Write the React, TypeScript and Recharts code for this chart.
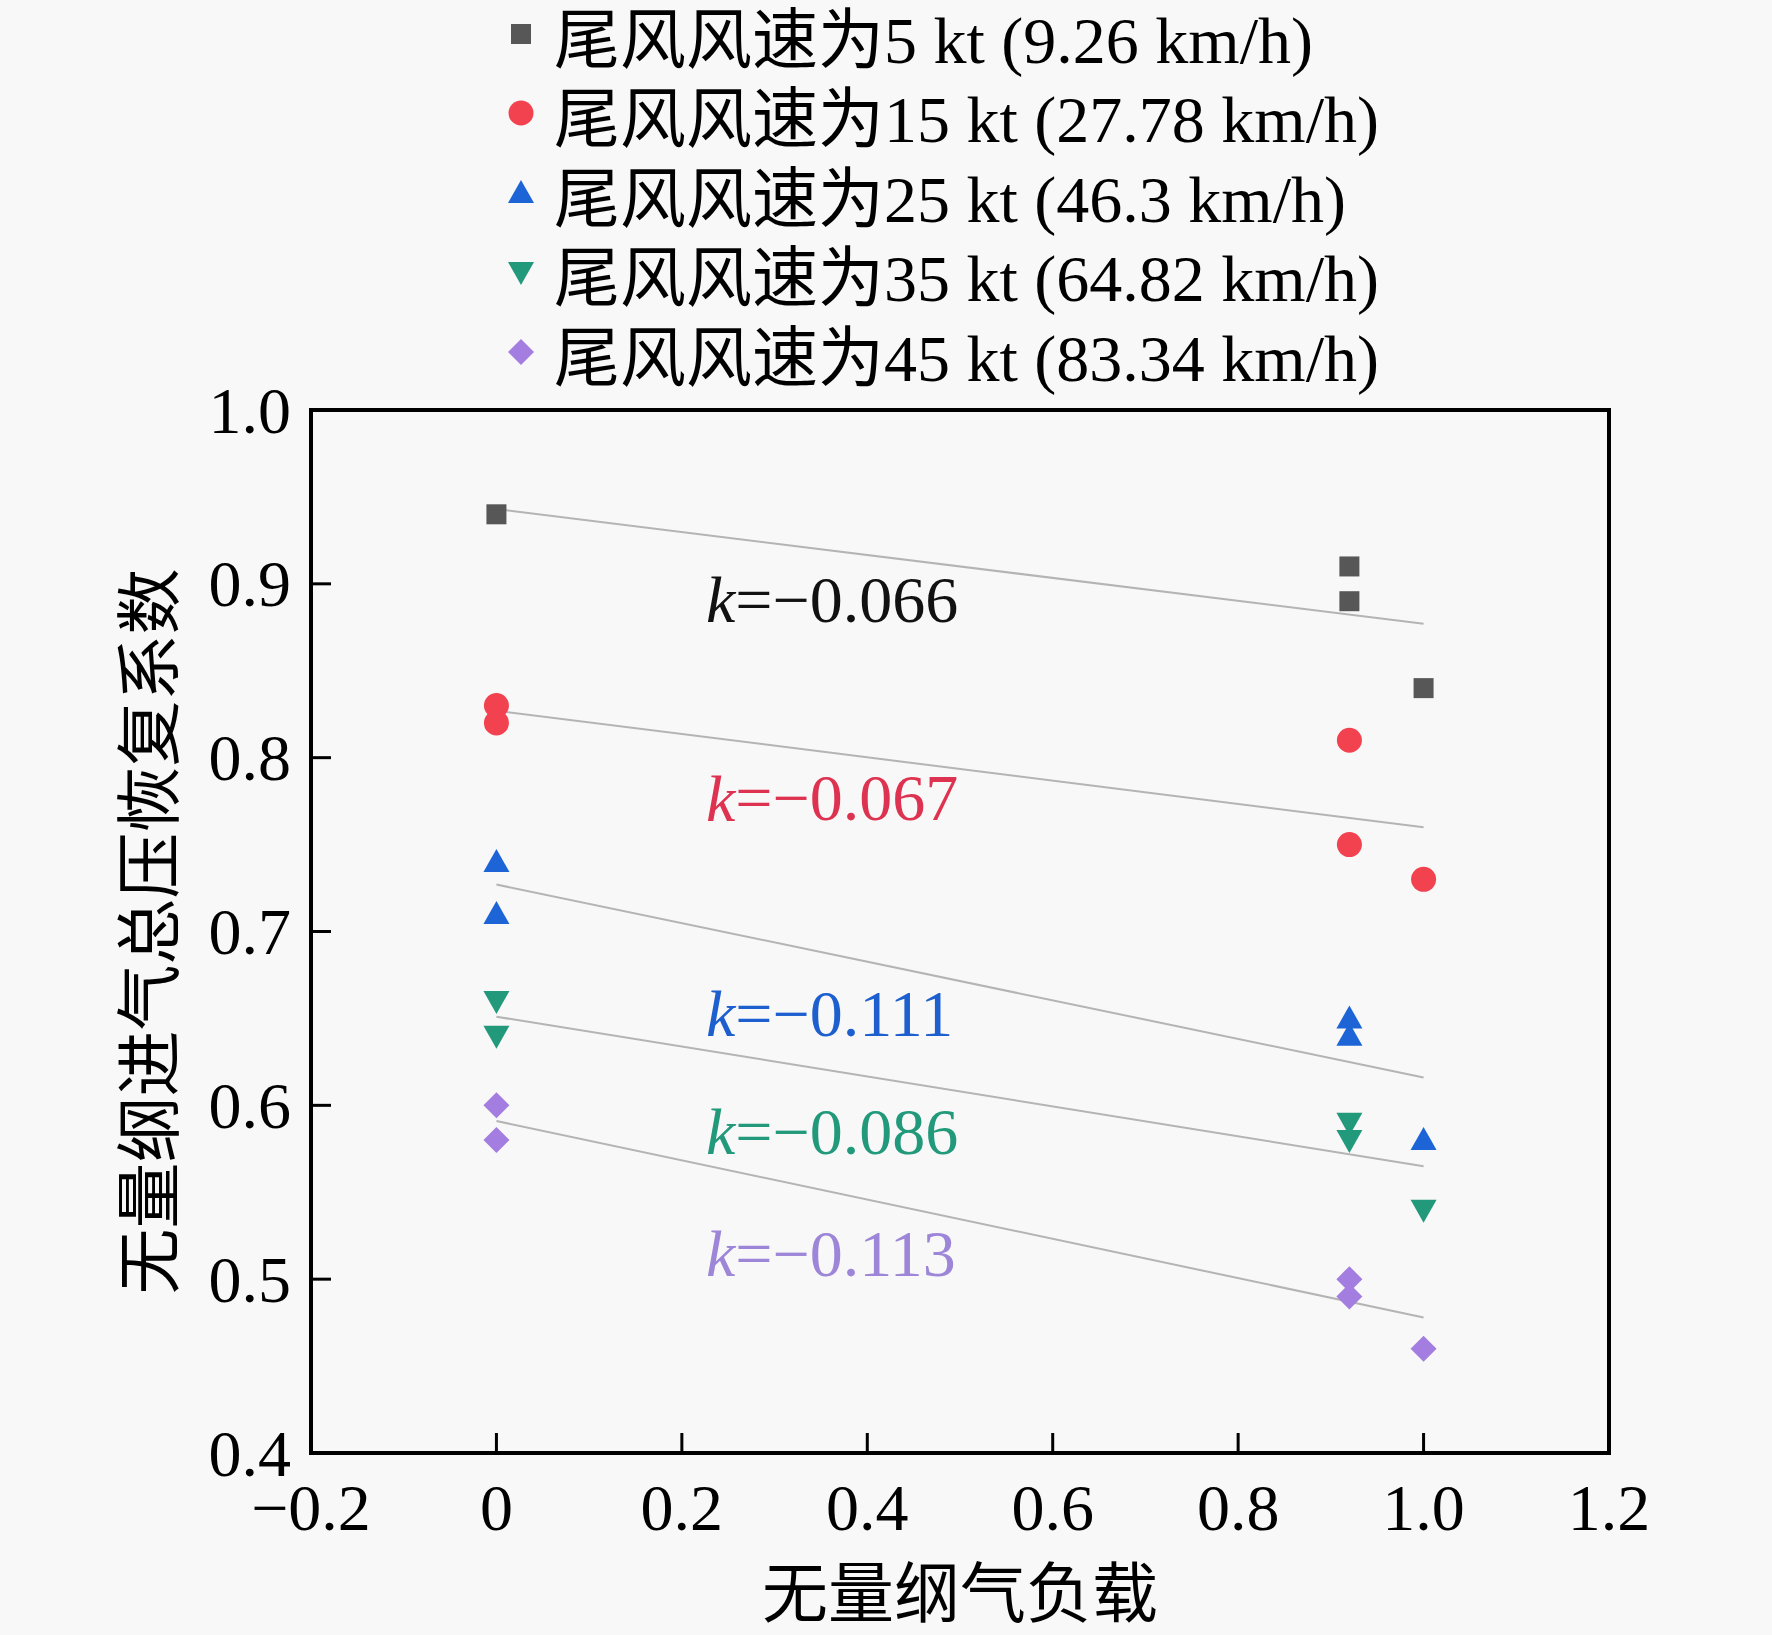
import React from "react";
import { ScatterChart, Scatter, XAxis, YAxis, ReferenceLine, ReferenceArea } from "recharts";

const FONT = "'Liberation Serif', 'Times New Roman', 'Noto Sans CJK SC', serif";
const BG = "#f8f8f8";

const seriesNames = [
  "尾风风速为5 kt (9.26 km/h)",
  "尾风风速为15 kt (27.78 km/h)",
  "尾风风速为25 kt (46.3 km/h)",
  "尾风风速为35 kt (64.82 km/h)",
  "尾风风速为45 kt (83.34 km/h)",
];
const seriesColors = ["#575757", "#f2424f", "#1d64d6", "#21997a", "#a47de0"];
const seriesShapes = ["square", "circle", "triangle", "triangleDown", "diamond"];

const wind5 = [
  { x: 0, y: 0.94 },
  { x: 0.92, y: 0.91 },
  { x: 0.92, y: 0.89 },
  { x: 1.0, y: 0.84 },
];
const wind15 = [
  { x: 0, y: 0.83 },
  { x: 0, y: 0.82 },
  { x: 0.92, y: 0.81 },
  { x: 0.92, y: 0.75 },
  { x: 1.0, y: 0.73 },
];
const wind25 = [
  { x: 0, y: 0.74 },
  { x: 0, y: 0.71 },
  { x: 0.92, y: 0.65 },
  { x: 0.92, y: 0.64 },
  { x: 1.0, y: 0.58 },
];
const wind35 = [
  { x: 0, y: 0.66 },
  { x: 0, y: 0.64 },
  { x: 0.92, y: 0.59 },
  { x: 0.92, y: 0.58 },
  { x: 1.0, y: 0.54 },
];
const wind45 = [
  { x: 0, y: 0.6 },
  { x: 0, y: 0.58 },
  { x: 0.92, y: 0.5 },
  { x: 0.92, y: 0.49 },
  { x: 1.0, y: 0.46 },
];
const allSeries = [wind5, wind15, wind25, wind35, wind45];

// fitted lines, from x = 0 to x = 1
const fitStart = [0.943, 0.827, 0.727, 0.651, 0.591];
const fitEnd = [0.877, 0.76, 0.616, 0.565, 0.478];

const slopeTexts = ["−0.066", "−0.067", "−0.111", "−0.086", "−0.113"];
const slopeColors = ["#111111", "#de3350", "#1d5fcf", "#21997a", "#9d86d8"];
const slopeLabels = slopeTexts.map((t, i) => ({
  x: 0.226,
  y: [0.891, 0.777, 0.653, 0.585, 0.515][i],
  text: t,
  color: slopeColors[i],
}));

const xTicks = [-0.2, 0, 0.2, 0.4, 0.6, 0.8, 1.0, 1.2];
const yTicks = [0.4, 0.5, 0.6, 0.7, 0.8, 0.9, 1.0];

const fmtX = (v: number) => (v === 0 ? "0" : (v < 0 ? "−" : "") + Math.abs(v).toFixed(1));

function marker(kind: string, cx: number, cy: number, color: string) {
  switch (kind) {
    case "square":
      return <rect x={cx - 10} y={cy - 10} width={20} height={20} fill={color} />;
    case "circle":
      return <circle cx={cx} cy={cy} r={12.5} fill={color} />;
    case "triangle":
      return <polygon points={`${cx},${cy - 13} ${cx + 13},${cy + 10} ${cx - 13},${cy + 10}`} fill={color} />;
    case "triangleDown":
      return <polygon points={`${cx - 13},${cy - 10} ${cx + 13},${cy - 10} ${cx},${cy + 13}`} fill={color} />;
    default:
      return <polygon points={`${cx},${cy - 13} ${cx + 13},${cy} ${cx},${cy + 13} ${cx - 13},${cy}`} fill={color} />;
  }
}

const XTick = ({ x, y, payload }: any) => (
  <g>
    <line x1={x} x2={x} y1={y} y2={y - 20} stroke="#000" strokeWidth={3} />
    <text x={x} y={y + 54} textAnchor="middle" dominantBaseline="central" fontSize={66} fontFamily={FONT} fill="#000">
      {fmtX(payload.value)}
    </text>
  </g>
);

const YTick = ({ x, y, payload }: any) => (
  <g>
    <line x1={x} x2={x + 20} y1={y} y2={y} stroke="#000" strokeWidth={3} />
    <text x={x - 20} y={y} textAnchor="end" dominantBaseline="central" fontSize={66} fontFamily={FONT} fill="#000">
      {payload.value.toFixed(1)}
    </text>
  </g>
);

function Legend() {
  return (
    <div style={{ position: "absolute", left: 500, top: -6, fontFamily: FONT, fontSize: 66, color: "#000" }}>
      {seriesNames.map((name, i) => (
        <div key={name} style={{ height: 79.5, display: "flex", alignItems: "center", whiteSpace: "nowrap" }}>
          <svg width={54} height={40} style={{ flex: "none" }}>
            {marker(seriesShapes[i], 21, 20, seriesColors[i])}
          </svg>
          <span>{name}</span>
        </div>
      ))}
    </div>
  );
}

export default function App() {
  return (
    <div style={{ position: "absolute", left: 0, top: 0, width: 1772, height: 1635, background: BG, fontFamily: FONT }}>
      <ScatterChart width={1772} height={1635} margin={{ top: 410, right: 163, bottom: 2, left: 100 }}>
        <XAxis
          type="number"
          dataKey="x"
          domain={[-0.2, 1.2]}
          ticks={xTicks}
          interval={0}
          tickSize={0}
          tickMargin={0}
          axisLine={false}
          tick={<XTick />}
          height={180}
          label={{
            content: ({ viewBox }: any) => (
              <text
                x={viewBox.x + viewBox.width / 2}
                y={viewBox.y + 141}
                textAnchor="middle"
                dominantBaseline="central"
                fontSize={66}
                fontFamily={FONT}
                fill="#000"
              >
                无量纲气负载
              </text>
            ),
          }}
        />
        <YAxis
          type="number"
          dataKey="y"
          domain={[0.4, 1.0]}
          ticks={yTicks}
          interval={0}
          tickSize={0}
          tickMargin={0}
          axisLine={false}
          tick={<YTick />}
          width={211}
          label={{
            content: ({ viewBox }: any) => {
              const cx = viewBox.x + viewBox.width - 161;
              const cy = viewBox.y + viewBox.height / 2;
              return (
                <text
                  x={cx}
                  y={cy}
                  transform={`rotate(-90 ${cx} ${cy})`}
                  textAnchor="middle"
                  dominantBaseline="central"
                  fontSize={66}
                  fontFamily={FONT}
                  fill="#000"
                >
                  无量纲进气总压恢复系数
                </text>
              );
            },
          }}
        />
        <ReferenceArea x1={-0.2} x2={1.2} y1={0.4} y2={1.0} fill="none" stroke="#000" strokeWidth={4} ifOverflow="visible" />
        {fitStart.map((s, i) => (
          <ReferenceLine
            key={"fit" + i}
            segment={[
              { x: 0, y: s },
              { x: 1, y: fitEnd[i] },
            ]}
            stroke="#b4b4b4"
            strokeWidth={2}
            ifOverflow="visible"
          />
        ))}
        {allSeries.map((data, i) => (
          <Scatter
            key={seriesNames[i]}
            name={seriesNames[i]}
            data={data}
            isAnimationActive={false}
            shape={(p: any) => marker(seriesShapes[i], p.cx, p.cy, seriesColors[i])}
          />
        ))}
        <Scatter
          data={slopeLabels}
          isAnimationActive={false}
          shape={(p: any) => (
            <text
              x={p.cx}
              y={p.cy}
              dominantBaseline="central"
              fontSize={66}
              fontFamily={FONT}
              fill={p.payload.color}
            >
              <tspan fontStyle="italic">k</tspan>={p.payload.text}
            </text>
          )}
        />
      </ScatterChart>
      <Legend />
    </div>
  );
}
